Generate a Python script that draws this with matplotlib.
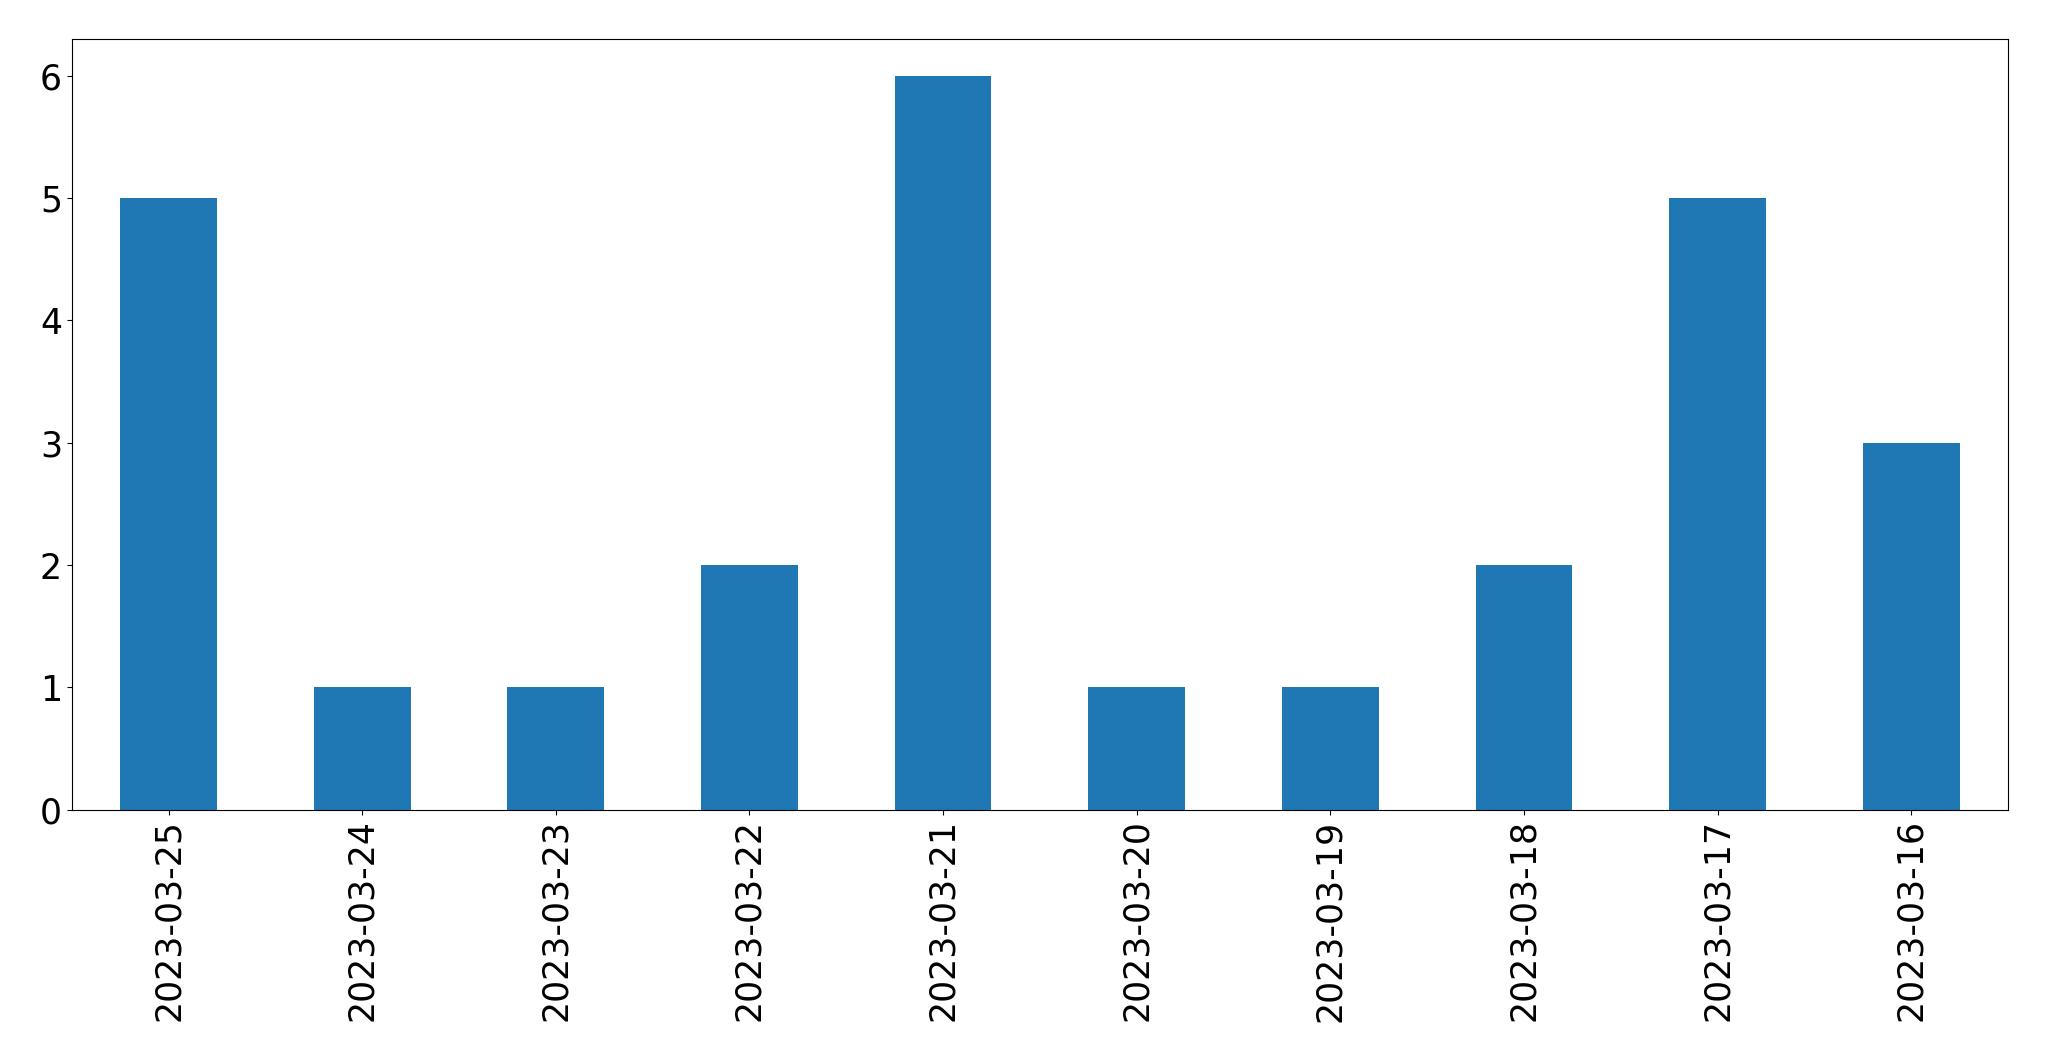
import pandas as pd
import matplotlib.pyplot as plt

dates = ['2023-03-25', '2023-03-24', '2023-03-23', '2023-03-22', '2023-03-21',
         '2023-03-20', '2023-03-19', '2023-03-18', '2023-03-17', '2023-03-16']
counts = [5, 1, 1, 2, 6, 1, 1, 2, 5, 3]

s = pd.Series(counts, index=dates)

fig, ax = plt.subplots(figsize=(20.49, 10.61), dpi=100)
s.plot(kind='bar', ax=ax, fontsize=25)
plt.subplots_adjust(left=0.035, right=0.980, top=0.963, bottom=0.237)

plt.savefig('out.png', dpi=100)
